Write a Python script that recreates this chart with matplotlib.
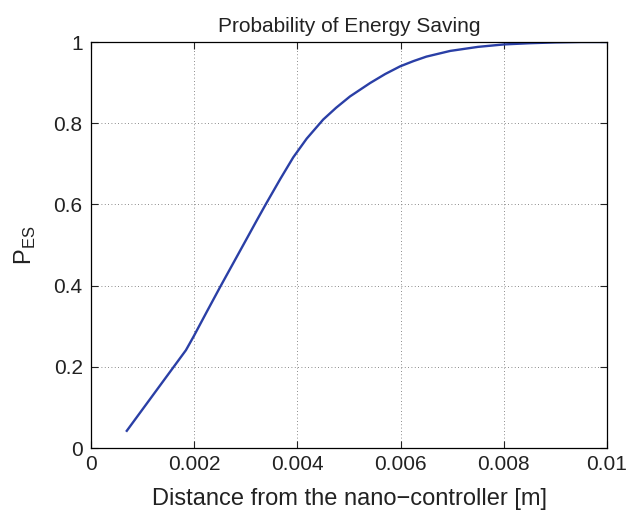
import matplotlib
matplotlib.use("Agg")
import matplotlib.pyplot as plt

distance = [0.00068, 0.00184, 0.00199, 0.00225, 0.00250, 0.00276, 0.00302,
            0.00321, 0.00339, 0.00367, 0.00392, 0.00418, 0.00450, 0.00475,
            0.00502, 0.00541, 0.00570, 0.00599, 0.00625, 0.00650, 0.00696,
            0.00750, 0.00800, 0.00850, 0.00900, 0.00950, 0.01000]
p_es = [0.040, 0.241, 0.275, 0.337, 0.396, 0.456, 0.516,
        0.560, 0.601, 0.663, 0.716, 0.762, 0.809, 0.838,
        0.866, 0.899, 0.921, 0.940, 0.953, 0.964, 0.978,
        0.988, 0.994, 0.997, 0.999, 1.000, 1.000]
xticks = [0, 0.002, 0.004, 0.006, 0.008, 0.01]
xticklabels = ["0", "0.002", "0.004", "0.006", "0.008", "0.01"]
yticks = [0, 0.2, 0.4, 0.6, 0.8, 1]
yticklabels = ["0", "0.2", "0.4", "0.6", "0.8", "1"]

plt.rcParams['font.family'] = ['Liberation Sans', 'DejaVu Sans']
plt.rcParams['mathtext.fontset'] = 'custom'
plt.rcParams['mathtext.rm'] = 'Liberation Sans'

fig = plt.figure(figsize=(6.26, 5.16), dpi=100)
ax = fig.add_axes([91/626, 1-448/516, (607-91)/626, (448-42)/516])
ax.plot(distance, p_es, color='#2a3fa6', linewidth=1.7,
        solid_joinstyle='round', solid_capstyle='butt')
ax.set_xlim(0, 0.01)
ax.set_ylim(0, 1)
ax.set_xticks(xticks)
ax.set_xticklabels(xticklabels)
ax.set_yticks(yticks)
ax.set_yticklabels(yticklabels)
ax.tick_params(direction='in', top=True, right=True, labelsize=15,
               length=5, width=0.8, colors='#222222')
ax.tick_params(axis='x', pad=5)
ax.tick_params(axis='y', pad=6)
ax.grid(True, linestyle=(0, (1, 3)), color='#666666', linewidth=0.6)
for s in ax.spines.values():
    s.set_linewidth(0.9)
ax.set_title("Probability of Energy Saving", fontsize=15, pad=7, color='#222222')
ax.set_xlabel("Distance from the nano\u2212controller [m]", fontsize=17,
              labelpad=10, color='#222222')
ax.set_ylabel(r"P$_{\mathrm{ES}}$", fontsize=17, labelpad=11, color='#222222')
fig.savefig("out.png", dpi=100)
